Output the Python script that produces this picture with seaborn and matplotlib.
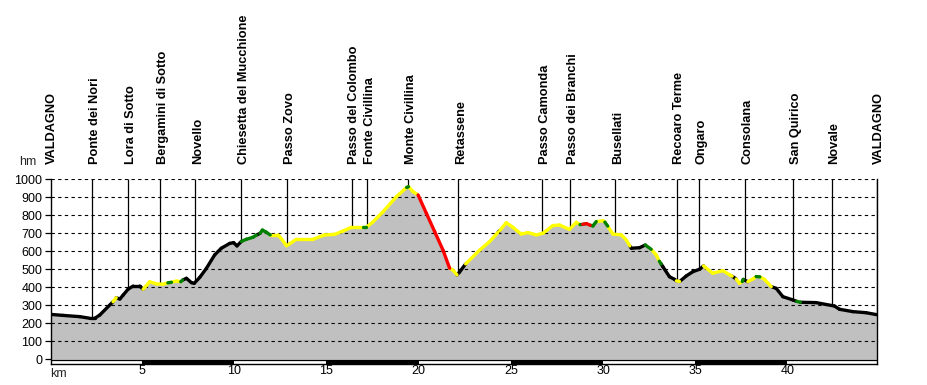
import numpy as np
import pandas as pd
import matplotlib
matplotlib.use("Agg")
import matplotlib.pyplot as plt
import matplotlib.transforms as mtransforms
import seaborn as sns

# ---- data -------------------------------------------------------------
profile_km = [0.0, 0.72, 1.63, 2.17, 2.44, 2.71, 3.43, 3.6, 3.8, 3.98, 4.25, 4.52, 4.88,
              5.06, 5.42, 5.78, 6.14, 6.4, 6.6, 6.87, 7.1, 7.2, 7.41, 7.68, 7.83, 8.13,
              8.49, 8.94, 9.3, 9.76, 9.97, 10.15, 10.39, 10.66, 11.02, 11.2, 11.4, 11.53,
              11.74, 11.95, 12.38, 12.61, 12.83, 13.0, 13.37, 14.27, 14.9, 15.45, 15.9,
              16.35, 16.98, 17.15, 17.5, 18.07, 18.8, 19.35, 19.45, 19.7, 19.97, 20.42,
              20.87, 21.32, 21.68, 21.86, 22.08, 22.22, 22.55, 23.31, 23.85, 24.3, 24.4,
              24.75, 25.11, 25.56, 25.93, 26.38, 26.74, 27.28, 27.64, 28.18, 28.55, 28.75,
              28.9, 29.0, 29.1, 29.3, 29.45, 29.63, 29.99, 30.1, 30.25, 30.53, 30.99,
              31.26, 31.45, 31.53, 31.98, 32.29, 32.61, 32.88, 33.05, 33.15, 33.24, 33.6,
              33.88, 33.98, 34.15, 34.51, 34.87, 35.23, 35.45, 35.95, 36.49, 36.86, 37.0,
              37.22, 37.4, 37.55, 37.6, 37.85, 38.12, 38.3, 38.5, 38.75, 39.12, 39.39,
              39.75, 40.29, 40.5, 40.7, 41.55, 42.55, 42.82, 43.54, 44.26, 44.84]
profile_elev = [250, 244, 237, 228, 228, 246, 320, 342, 335, 357, 390, 407, 407,
                389, 431, 419, 417, 425, 428, 435, 431, 440, 450, 426, 422, 455,
                505, 580, 617, 644, 648, 630, 655, 667, 678, 690, 700, 718,
                706, 691, 691, 663, 631, 641, 667, 667, 691, 694, 713,
                733, 733, 733, 761, 820, 904, 955, 959, 931, 913, 811,
                709, 607, 506, 496, 469, 485, 530, 607, 654, 705, 715,
                759, 733, 696, 704, 691, 700, 743, 746, 722, 761, 748,
                750, 752, 754, 745, 741, 765, 770, 762, 740, 696, 691,
                663, 630, 617, 620, 635, 611, 580, 545, 530, 515, 459,
                444, 436, 432, 463, 487, 500, 519, 478, 493, 469, 462,
                446, 422, 432, 444, 431, 446, 460, 458, 444, 404, 394,
                348, 330, 322, 317, 315, 296, 278, 265, 259, 248]
# surface class of the segment leaving each point (last entry unused)
segment_class = ["k", "k", "k", "k", "k", "k", "y", "k", "k", "k", "k", "k", "k",
                 "y", "y", "y", "y", "g", "y", "y", "g", "k", "k", "k", "k", "k",
                 "k", "k", "k", "k", "k", "k", "g", "g", "g", "k", "g", "g",
                 "g", "y", "y", "y", "y", "y", "y", "y", "y", "y", "y",
                 "y", "g", "y", "y", "y", "y", "g", "y", "y", "r", "r",
                 "r", "r", "y", "y", "k", "k", "y", "y", "y", "k", "y",
                 "y", "y", "y", "y", "y", "y", "y", "y", "y", "y", "g",
                 "r", "g", "r", "g", "g", "y", "y", "g", "y", "y", "y",
                 "y", "k", "k", "k", "g", "y", "y", "g", "k", "k", "k",
                 "k", "y", "k", "k", "k", "k", "y", "y", "y", "y", "k",
                 "y", "y", "g", "k", "y", "y", "g", "y", "y", "k", "k",
                 "k", "k", "g", "k", "k", "k", "k", "k", "k", "k"]

place_names = ["VALDAGNO", "Ponte dei Nori", "Lora di Sotto", "Bergamini di Sotto", "Novello",
               "Chiesetta del Mucchione", "Passo Zovo", "Passo del Colombo", "Fonte Civillina",
               "Monte Civillina", "Retassene", "Passo Camonda", "Passo dei Branchi", "Busellati",
               "Recoaro Terme", "Ongaro", "Consolana", "San Quirico", "Novale", "VALDAGNO"]
place_km = [0.0, 2.31, 4.26, 6.0, 7.9, 10.39, 12.88, 16.37, 17.22, 19.45, 22.15, 26.7,
            28.22, 30.66, 33.99, 35.18, 37.72, 40.31, 42.42, 44.84]

y_ticks = list(range(0, 1001, 100))
x_ticks = [5, 10, 15, 20, 25, 30, 35, 40]

class_colors = {"k": "#000000", "y": "#ffff00", "g": "#008000", "r": "#ff0000"}

# ---- figure -----------------------------------------------------------
sns.set_theme(style="white")
plt.rcParams["font.family"] = ["Liberation Sans", "DejaVu Sans"]

fig = plt.figure(figsize=(9.27, 3.85), dpi=100)
ax = fig.add_axes([50.7 / 927, 1 - 364 / 385, (877.3 - 50.7) / 927, (364 - 179.3) / 385])
ax.set_xlim(0.05, 44.87)
ax.set_ylim(-26, 1000)

km = np.array(profile_km)
elev = np.array(profile_elev)

# gray area under the profile
ax.fill_between(km, 0, elev, color="#c0c0c0", linewidth=0, zorder=1)

# dashed grid
for yv in y_ticks[1:]:
    ax.axhline(yv, color="black", lw=0.8, ls=(0, (3, 3)), zorder=2)

# place lines
place_elev = np.interp(place_km, km, elev)
ax.vlines(place_km, place_elev, 1000, color="black", lw=0.9, zorder=2)

# coloured profile
rows = []
for i in range(len(km) - 1):
    rows.append({"km": km[i], "elev": elev[i], "seg": i, "cls": segment_class[i]})
    rows.append({"km": km[i + 1], "elev": elev[i + 1], "seg": i, "cls": segment_class[i]})
df = pd.DataFrame(rows)
sns.lineplot(data=df, x="km", y="elev", units="seg", hue="cls", palette=class_colors,
             estimator=None, sort=False, lw=2.4, legend=False, ax=ax, zorder=4,
             solid_capstyle="round")

# scale bar at the bottom
ax.hlines(-4, 0.05, 44.87, color="black", lw=0.9, zorder=3)
bar_starts = np.arange(5, 40, 10)
ax.bar(bar_starts + 2.5, 22, width=5, bottom=-26, color="black", linewidth=0, zorder=3)

# place labels (shifted a few pixels right of their lines, as in the original)
label_shift = mtransforms.offset_copy(ax.transData, fig=fig, x=2.5, y=0, units="dots")
for name, pk in zip(place_names, place_km):
    ax.text(pk, 1085, name, rotation=90, ha="center", va="bottom", fontsize=9.2,
            fontweight="bold", color="black", clip_on=False, transform=label_shift)

# axes styling
ax.spines["top"].set_visible(False)
for side in ["left", "right", "bottom"]:
    ax.spines[side].set_color("black")
    ax.spines[side].set_linewidth(1.0)
ax.set_yticks(y_ticks)
ax.set_yticklabels([str(v) for v in y_ticks], fontsize=9, color="black")
ax.set_xticks(x_ticks)
ax.set_xticklabels([str(v) for v in x_ticks], fontsize=9, color="black")
ax.tick_params(axis="y", direction="out", length=4, width=0.9, color="black", pad=2, left=True)
ax.tick_params(axis="x", length=0, pad=1)
ax.set_xlabel("")
ax.set_ylabel("")
ax.text(-0.75, 1065, "hm", fontsize=9, ha="right", va="bottom", clip_on=False)
ax.text(0.0, -0.02, "km", fontsize=9, ha="left", va="top", transform=ax.get_xaxis_transform(),
        clip_on=False)

fig.savefig("out.png", dpi=100)
